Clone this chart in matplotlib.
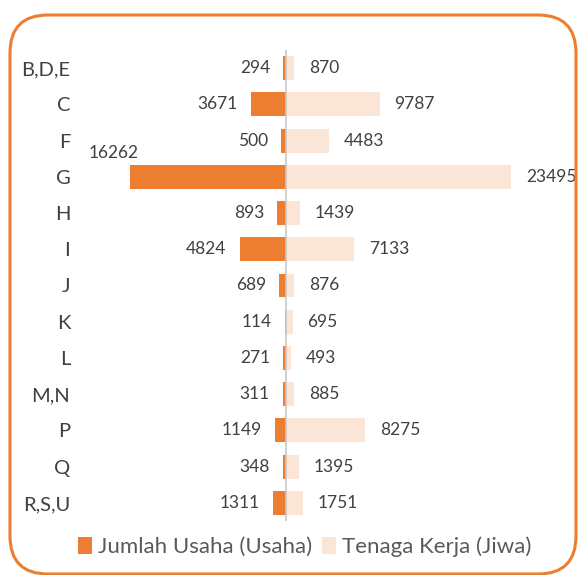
#!/usr/bin/env python3
# Butterfly bar chart: Jumlah Usaha (left) vs Tenaga Kerja (right) per KBLI category

import matplotlib
matplotlib.use("Agg")
import matplotlib.pyplot as plt
from matplotlib.patches import FancyBboxPatch, Patch
from matplotlib.transforms import Affine2D

categories = ["B,D,E", "C", "F", "G", "H", "I", "J", "K", "L", "M,N", "P", "Q", "R,S,U"]
jumlah_usaha = [294, 3671, 500, 16262, 893, 4824, 689, 114, 271, 311, 1149, 348, 1311]
tenaga_kerja = [870, 9787, 4483, 23495, 1439, 7133, 876, 695, 493, 885, 8275, 1395, 1751]

ORANGE = "#ED7D31"
PEACH = "#FBE5D6"
TXT = "#404040"

W, H = 578, 575
plt.rcParams["font.family"] = ["Lato", "DejaVu Sans"]

fig = plt.figure(figsize=(W / 100, H / 100), dpi=100)

# axes placed in pixel terms: 0 sits at x=286 px
x_left, x_right, x_zero = 80, 540, 286
y_top, y_bot = 50, 521
upp = 104.2  # data units per pixel
ax = fig.add_axes([x_left / W, 1 - y_bot / H, (x_right - x_left) / W, (y_bot - y_top) / H])
ax.set_xlim(-(x_zero - x_left) * upp, (x_right - x_zero) * upp)
ax.set_ylim(len(categories) - 0.5, -0.5)

ypos = list(range(len(categories)))
ax.barh(ypos, tenaga_kerja, height=0.66, color=PEACH, zorder=2)
ax.barh(ypos, [-v for v in jumlah_usaha], height=0.66, color=ORANGE, zorder=2)
ax.axvline(0, color="#C8C8C8", lw=1.2, zorder=3)

for i, (u, t) in enumerate(zip(jumlah_usaha, tenaga_kerja)):
    if u == max(jumlah_usaha):
        # biggest bar hits the edge, label sits above it
        ax.annotate(f"{u}", (-u, i), xytext=(-12, 17), textcoords="offset points",
                    ha="center", va="center", fontsize=12.5, color=TXT)
    else:
        ax.annotate(f"{u}", (-u, i), xytext=(-9.5, 0), textcoords="offset points",
                    ha="right", va="center", fontsize=12.5, color=TXT)
    ax.annotate(f"{t}", (t, i), xytext=(10.5, 0), textcoords="offset points",
                ha="left", va="center", fontsize=12.5, color=TXT)

ax.set_yticks(ypos)
ax.set_yticklabels(categories, fontsize=14.5, color=TXT)
ax.tick_params(axis="y", length=0, pad=7)
ax.set_xticks([])
for s in ax.spines.values():
    s.set_visible(False)

handles = [Patch(facecolor=ORANGE, label="Jumlah Usaha (Usaha)"),
           Patch(facecolor=PEACH, label="Tenaga Kerja (Jiwa)")]
fig.legend(handles=handles, loc="center", bbox_to_anchor=(305 / W, 1 - 547 / H), ncol=2,
           frameon=False, fontsize=16, labelcolor="#595959", handlelength=0.6,
           handleheight=0.75, handletextpad=0.3, columnspacing=0.45)

# rounded orange frame, drawn in pixel coords (y down)
px = Affine2D().scale(1 / W, -1 / H).translate(0, 1) + fig.transFigure
frame = FancyBboxPatch((10, 15), 566, 559, boxstyle="round,pad=0,rounding_size=38",
                       transform=px, facecolor="none", edgecolor=ORANGE, lw=2.2)
fig.patches.append(frame)

fig.savefig("out.png", dpi=100)
